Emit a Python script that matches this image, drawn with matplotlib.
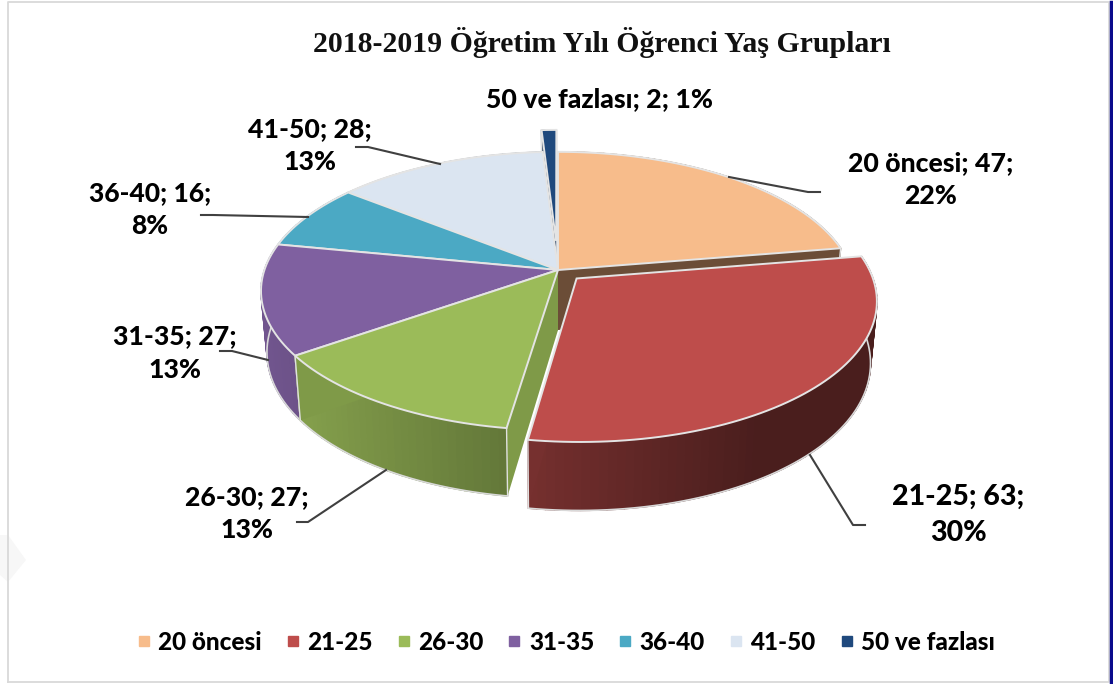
import numpy as np
import matplotlib
matplotlib.use('Agg')
import matplotlib.pyplot as plt
from matplotlib.colors import to_rgb
from matplotlib.lines import Line2D
from matplotlib.patches import Polygon

plt.rcParams['font.family'] = ['Lato', 'DejaVu Sans']

title = '2018-2019 Öğretim Yılı Öğrenci Yaş Grupları'
groups = ['20 öncesi', '21-25', '26-30', '31-35', '36-40', '41-50', '50 ve fazlası']
counts = [47, 63, 27, 27, 16, 28, 2]
colors = ['#F7BC8B', '#BE4D4B', '#9BBB59', '#7F60A0', '#4BA9C4', '#DBE5F1', '#1F497D']
explode = [0, 0.088, 0, 0, 0, 0, 0.22]

# posicao dos rotulos (centro x, y central) e tamanho da fonte
label_pos = [(931, 180), (958, 515), (247, 514), (175, 353), (150, 210), (310, 146), (599, 99)]
label_size = [19.2, 20.5, 19.2, 19.2, 19, 19.2, 19.2]
leaders = [
    [(729, 177), (808, 192), (820, 192)],
    [(810, 455), (853, 525), (865, 525)],
    [(386, 470), (308, 522), (297, 522)],
    [(268, 360), (232, 351), (220, 351)],
    [(308, 217), (213, 215), (201, 215)],
    [(440, 164), (368, 147), (356, 147)],
]

# parametros da perspectiva
cx, cy = 558, 270
sx, sy = 293.6, 136
k = 0.151


# disco (x, y) para pixels, com a perspectiva do grafico 3D
def project(x, y, bottom=False):
    d = 1 + k * y
    px = x / d * sx
    py = -y / d * sy
    if bottom:
        return cx + px * 0.98, cy + py + 60 - 8 * y
    return cx + px, cy + py


def shade(color, px):
    f = np.clip(0.85 - (px - 300) * 0.001, 0.39, 0.9)
    return tuple(c * f for c in to_rgb(color))


fig = plt.figure(figsize=(11.13, 6.84), dpi=100)
ax = fig.add_axes([0, 0, 1, 1])
ax.set_xlim(0, 1113)
ax.set_ylim(684, 0)
ax.axis('off')

# marca d'agua e moldura
ax.add_patch(Polygon([(0, 535), (8, 535), (26, 560), (8, 582), (0, 575)], fc='#f7f7f7', ec='none', zorder=0))
ax.plot([8, 8, 1109, 1109, 8], [682, 2, 2, 682, 682], color='#d9d9d9', lw=1.3, zorder=1)
ax.plot([1111, 1111], [2, 684], color='#0a0a8c', lw=2.5, zorder=1)

total = sum(counts)
ends = np.cumsum(counts) / total * 2 * np.pi
starts = np.r_[0, ends[:-1]]

# ordem de tras para frente
order = [6, 5, 4, 0, 3, 2, 1]
z = 2
for i in order:
    a0, a1 = starts[i], ends[i]
    mid = (a0 + a1) / 2
    ox, oy = explode[i] * np.sin(mid), explode[i] * np.cos(mid)
    t = np.linspace(a0, a1, max(int((a1 - a0) * 40), 6))
    xs = ox + np.sin(t)
    ys = oy + np.cos(t)

    # parede externa em gradiente
    top = [project(x, y) for x, y in zip(xs, ys)]
    bot = [project(x, y, True) for x, y in zip(xs, ys)]
    for j in range(len(t) - 1):
        quad = [top[j], top[j + 1], bot[j + 1], bot[j]]
        c = shade(colors[i], top[j][0])
        ax.add_patch(Polygon(quad, fc=c, ec=c, lw=1.0, zorder=z))
    z += 1
    ax.plot([p[0] for p in bot], [p[1] for p in bot], color='#d9d9d9', lw=1.2, zorder=z)
    z += 1

    # paredes retas
    side = tuple(c * 0.62 for c in to_rgb(colors[i]))
    if i == 0:
        side = '#6B4D37'
    if i == 2:
        side = '#7F9A48'
    if i == 3:
        side = '#6A5288'
    for a in (a0, a1):
        ex, ey = ox + np.sin(a), oy + np.cos(a)
        pts = [project(ox, oy), project(ex, ey), project(ex, ey, True), project(ox, oy, True)]
        ax.add_patch(Polygon(pts, fc=side, ec='none', zorder=z))
        z += 1
    ax.plot([top[0][0], bot[0][0]], [top[0][1], bot[0][1]], color='#e0e0e0', lw=1, zorder=z)
    ax.plot([top[-1][0], bot[-1][0]], [top[-1][1], bot[-1][1]], color='#e0e0e0', lw=1, zorder=z)
    z += 1

    # tampa da fatia
    ax.add_patch(Polygon([project(ox, oy)] + top, fc=colors[i], ec='#e4e4e4', lw=1.4, zorder=z))
    z += 1

ax.text(602, 43, title, family='Liberation Serif', weight='bold', fontsize=21.4,
        color='#111111', ha='center', va='center', zorder=z)

for line in leaders:
    pts = np.array(line)
    ax.plot(pts[:, 0], pts[:, 1], color='#404040', lw=1.5, zorder=z)

for i, name in enumerate(groups):
    pct = round(counts[i] / total * 100)
    sep = ' ' if i == 6 else '\n'
    ax.text(label_pos[i][0], label_pos[i][1], f'{name}; {counts[i]};{sep}{pct}%', fontsize=label_size[i],
            weight=900, color='black', ha='center', va='center', linespacing=1.45, zorder=z)

handles = [Line2D([], [], ls='none', marker='s', ms=7, color=c) for c in colors]
ax.legend(handles, groups, ncol=7, frameon=False, loc='center', bbox_to_anchor=(565 / 1113, 1 - 642 / 684),
          prop={'weight': 900, 'size': 17.5}, handlelength=0.7, handletextpad=0.25, columnspacing=0.92,
          labelcolor='black')

fig.savefig('out.png', dpi=100)
